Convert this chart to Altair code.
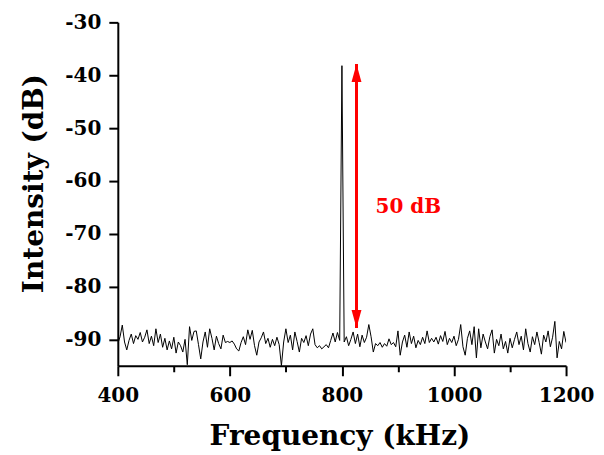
import altair as alt
import pandas as pd

# ---- data (frequency grid 400..1200 kHz, 4 kHz step) ----
freq_khz = list(range(400, 1201, 4))

seg_400 = [-90.8, -89.5, -87.3, -90.5, -92.0, -90.2, -89.0, -90.8, -89.3, -90.0,
           -88.7, -90.5, -89.6, -88.2, -90.8, -89.4, -91.2, -88.0, -90.6, -89.0,
           -91.5, -89.8, -92.0, -90.3, -91.8]
seg_500 = [-89.6, -92.6, -90.5, -91.2, -92.4, -90.0, -94.8, -87.6, -90.2, -88.5,
           -88.4, -91.0, -93.7, -90.5, -88.6, -91.5, -88.0, -89.8, -92.0, -89.4,
           -90.8, -91.8, -89.2, -90.6, -90.4]
seg_600 = [-90.6, -90.3, -90.9, -91.8, -92.2, -90.6, -89.5, -91.0, -88.2, -90.0,
           -88.3, -91.2, -93.0, -90.5, -89.7, -88.6, -90.8, -89.8, -91.5, -90.0,
           -91.2, -89.6, -91.0, -95.0, -90.5]
seg_700 = [-88.0, -90.6, -89.2, -92.0, -88.6, -90.4, -92.4, -89.8, -90.6, -89.3,
           -91.2, -89.0, -88.0, -91.0, -91.6, -91.2, -91.8, -91.4, -91.0, -91.6,
           -90.2, -88.8, -90.5, -88.7, -90.2]
peak_800 = [-38.2]
seg_804 = [-90.5, -89.5, -91.2, -90.0, -88.6, -90.8, -89.0, -91.4, -89.2, -90.6,
           -89.6, -87.2, -89.5, -92.4, -90.8, -91.2, -90.6, -91.5, -90.8, -91.3,
           -89.9, -91.0, -90.6, -91.4]
seg_900 = [-88.4, -93.0, -90.5, -89.2, -91.5, -88.6, -90.8, -89.4, -91.6, -90.2,
           -91.0, -89.6, -90.8, -88.4, -90.6, -89.8, -90.5, -89.6, -90.9, -89.3,
           -90.4, -88.5, -91.0, -89.8, -90.6]
seg_1000 = [-89.4, -91.2, -90.0, -87.2, -91.4, -93.0, -89.8, -88.4, -91.0, -87.6,
            -93.5, -88.0, -91.6, -89.0, -90.5, -91.8, -89.5, -88.2, -92.6, -90.0,
            -91.2, -89.0, -91.8, -90.4, -92.6]
seg_1100 = [-89.8, -91.6, -90.0, -88.6, -91.0, -89.4, -92.0, -88.0, -90.8, -92.4,
            -89.5, -91.0, -88.6, -90.6, -92.8, -89.2, -90.5, -88.4, -91.4, -89.6,
            -86.6, -93.5, -90.4, -91.8, -88.5, -90.6]

intensity_db = (seg_400 + seg_500 + seg_600 + seg_700 + peak_800 + seg_804
                + seg_900 + seg_1000 + seg_1100)
assert len(intensity_db) == len(freq_khz)

# annotation: double arrow and label
arrow_x = [826]
arrow_top = [-37.9]
arrow_bottom = [-87.85]
label_x = [860]
label_y = [-65]
label_text = ["50 dB"]

x_ticks = [400, 500, 600, 700, 800, 900, 1000, 1100, 1200]
y_ticks = [-90, -85, -80, -75, -70, -65, -60, -55, -50, -45, -40, -35, -30]

FONT = "DejaVu Serif"
RED = "#ff0000"

df = pd.DataFrame({"freq": freq_khz, "db": intensity_db})
arrow_df = pd.DataFrame({"x": arrow_x, "top": arrow_top, "bottom": arrow_bottom})
label_df = pd.DataFrame({"x": label_x, "y": label_y, "t": label_text})

xscale = alt.Scale(domain=[400, 1200], nice=False, zero=False)
yscale = alt.Scale(domain=[-95, -30], nice=False, zero=False)

x_axis = alt.Axis(
    values=x_ticks,
    labelExpr="datum.value % 200 === 0 ? '' + datum.value : ''",
    tickSize={"condition": {"test": "datum.value % 200 === 0", "value": 10}, "value": 6},
    tickWidth=2, domainWidth=2, domainColor="black", tickColor="black",
    labelFont=FONT, labelFontWeight="bold", labelFontSize=20, labelColor="black",
    labelPadding=10, grid=False, labelFlush=False,
    title="Frequency (kHz)", titleFont=FONT, titleFontWeight="bold",
    titleFontSize=28, titleColor="black", titleX=222, titleY=71,
    titleBaseline="middle", titleAlign="center",
)
y_axis = alt.Axis(
    values=y_ticks,
    labelExpr="datum.value % 10 === 0 ? '' + datum.value : ''",
    tickSize={"condition": {"test": "datum.value % 10 === 0", "value": 9}, "value": 6},
    tickWidth=2, domainWidth=2, domainColor="black", tickColor="black",
    labelFont=FONT, labelFontWeight="bold", labelFontSize=20, labelColor="black",
    labelPadding=8, grid=False, labelFlush=False,
    title="Intensity (dB)", titleFont=FONT, titleFontWeight="bold",
    titleFontSize=28, titleColor="black", titleAngle=-90, titleX=-83, titleY=161,
    titleBaseline="middle", titleAlign="center",
)

line = alt.Chart(df).mark_line(color="black", strokeWidth=1, clip=True).encode(
    x=alt.X("freq:Q", scale=xscale, axis=x_axis),
    y=alt.Y("db:Q", scale=yscale, axis=y_axis),
)

shaft = alt.Chart(arrow_df).mark_rule(color=RED, strokeWidth=3).encode(
    x="x:Q",
    y=alt.Y("top:Q", scale=yscale),
    y2="bottom:Q",
)
head_up = alt.Chart(arrow_df).mark_point(
    shape="M0,0L-0.55,2L0.55,2Z", filled=True, color=RED, opacity=1, size=324
).encode(x="x:Q", y=alt.Y("top:Q", scale=yscale))
head_down = alt.Chart(arrow_df).mark_point(
    shape="M0,0L-0.55,-2L0.55,-2Z", filled=True, color=RED, opacity=1, size=324
).encode(x="x:Q", y=alt.Y("bottom:Q", scale=yscale))

label = alt.Chart(label_df).mark_text(
    color=RED, font=FONT, fontWeight="bold", fontSize=20, align="left", baseline="middle"
).encode(x="x:Q", y=alt.Y("y:Q", scale=yscale), text="t:N")

chart = (
    alt.layer(line, shaft, head_up, head_down, label)
    .properties(
        width=449, height=344,
        autosize=alt.AutoSizeParams(type="none"),
        padding={"left": 110, "top": 14, "right": 30, "bottom": 88},
        background="white",
    )
    .configure_view(stroke=None)
)

chart.save("out.html", embed_options={"renderer": "svg", "actions": False})
